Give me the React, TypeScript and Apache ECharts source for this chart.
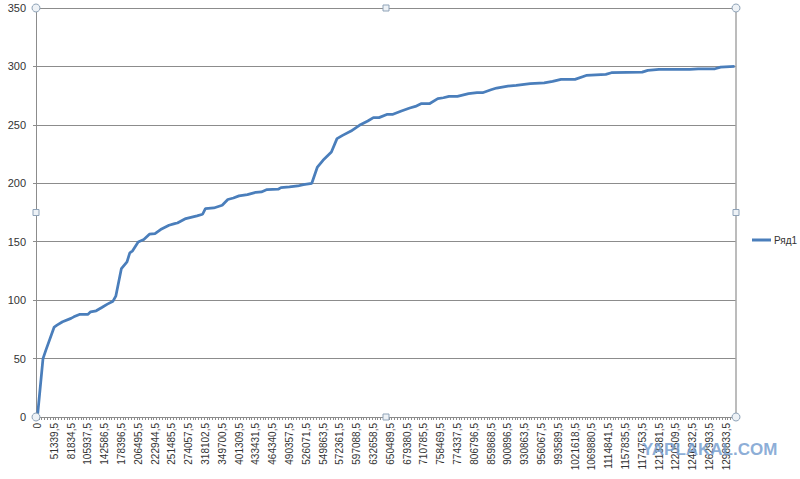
import React, { useEffect, useRef } from "react";
import * as echarts from "echarts";

const tickLabels = [
  "0", "51339,5", "81834,5", "105937,5", "142586,5", "178396,5", "206495,5",
  "222944,5", "251485,5", "274057,5", "318102,5", "349700,5", "401309,5",
  "433431,5", "464340,5", "490357,5", "526071,5", "549863,5", "572361,5",
  "597088,5", "632658,5", "650489,5", "679380,5", "710785,5", "758469,5",
  "774337,5", "806796,5", "859868,5", "900896,5", "930863,5", "956067,5",
  "993589,5", "1021618,5", "1069880,5", "1114841,5", "1157835,5", "1174753,5",
  "1213381,5", "1220509,5", "1246232,5", "1262993,5", "1298833,5",
];
const categoryCount = 250;
const labelEvery = 6;

const pointIndex = [
  0, 2, 3, 6, 7, 9, 12, 13, 15, 18, 19, 21, 23, 25, 27, 28, 30, 32, 33, 34,
  36, 38, 40, 42, 44, 47, 49, 50, 53, 57, 59, 60, 63, 66, 68, 70, 72, 75, 78,
  80, 82, 86, 87, 90, 93, 95, 98, 100, 102, 105, 107, 109, 112, 115, 118, 120,
  122, 125, 127, 130, 133, 135, 137, 140, 143, 145, 147, 150, 154, 157, 159,
  162, 164, 168, 171, 176, 181, 184, 187, 192, 196, 203, 205, 216, 218, 222,
  233, 236, 242, 244, 249,
];
const pointValue = [
  0, 50, 57, 77, 78.6, 81.5, 84.4, 85.7, 87.8, 87.8, 90, 90.9, 93.7, 96.6,
  99.1, 103.4, 127, 132.8, 140.5, 142.2, 149.8, 151.9, 156.4, 157, 160.4,
  164.1, 165.5, 166, 169.8, 172.1, 173.5, 178.4, 178.9, 181.2, 186.1, 187.4,
  189.2, 190.3, 192.3, 192.6, 194.6, 194.9, 196.3, 196.9, 197.7, 198.9, 200,
  213.9, 219.7, 226.8, 238.2, 241, 244.7, 249.6, 253.3, 256.2, 256.2, 259, 259,
  261.8, 264.4, 265.8, 268.1, 268.1, 272.4, 273.2, 274.4, 274.4, 276.7, 277.5,
  277.5, 280, 281.5, 283.2, 283.8, 285.2, 286, 287.2, 288.9, 288.9, 292.3,
  293.2, 294.6, 295.1, 296.6, 297.4, 297.4, 298, 298, 299.4, 300,
];
const seriesName = "Ряд1";

const FONT = "Liberation Sans, Arial, sans-serif";

export default function App() {
  const ref = useRef<HTMLDivElement>(null);

  useEffect(() => {
    if (!ref.current) return;
    const chart = echarts.init(ref.current, undefined, { renderer: "svg" });

    const categories = Array.from({ length: categoryCount }, (_, i) =>
      i % labelEvery === 0 ? tickLabels[i / labelEvery] ?? "" : ""
    );
    const data = pointIndex.map((idx, k) => [idx, pointValue[k]]);

    const L = 36, T = 8, R = 736, B = 417;
    const handleStyle = { fill: "#eef2f6", stroke: "#8fa3b8", lineWidth: 1 };
    const circle = (x: number, y: number) => ({
      type: "circle", shape: { cx: x, cy: y, r: 4 }, style: handleStyle, z: 100,
    });
    const square = (x: number, y: number) => ({
      type: "rect", shape: { x: x - 3, y: y - 3, width: 6, height: 6 }, style: handleStyle, z: 100,
    });

    chart.setOption({
      animation: false,
      backgroundColor: "#ffffff",
      grid: { left: L, top: T, right: 800 - R, bottom: 479 - B, containLabel: false },
      legend: {
        show: true,
        orient: "vertical",
        left: 752,
        top: 235,
        padding: 0,
        icon: "rect",
        itemWidth: 19,
        itemHeight: 3,
        itemGap: 4,
        data: [seriesName],
        textStyle: { fontFamily: FONT, fontSize: 10, color: "#333333", padding: [0, 0, 0, -2] },
      },
      xAxis: {
        type: "category",
        data: categories,
        boundaryGap: true,
        axisLine: { show: true, lineStyle: { color: "#8c8c8c", width: 1 } },
        axisTick: { show: true, interval: 0, length: 3, lineStyle: { color: "#8c8c8c" } },
        axisLabel: {
          interval: labelEvery - 1,
          rotate: 90,
          margin: 6,
          fontFamily: FONT,
          fontSize: 10,
          color: "#333333",
        },
        splitLine: { show: false },
      },
      yAxis: {
        type: "value",
        min: 0,
        max: 350,
        interval: 50,
        axisLine: { show: true, lineStyle: { color: "#8c8c8c", width: 1 } },
        axisTick: { show: true, length: 3, lineStyle: { color: "#8c8c8c" } },
        axisLabel: { margin: 10, fontFamily: FONT, fontSize: 11, color: "#333333" },
        splitLine: { show: true, lineStyle: { color: "#8c8c8c", width: 1 } },
      },
      series: [
        {
          name: seriesName,
          type: "line",
          data,
          symbol: "none",
          lineStyle: { color: "#4a7ebb", width: 2.75 },
          itemStyle: { color: "#4a7ebb" },
        },
      ],
      graphic: [
        { type: "line", shape: { x1: R, y1: T, x2: R, y2: B }, style: { stroke: "#a6a6a6", lineWidth: 1.5 }, z: 50 },
        circle(L, T), circle(R, T), circle(L, B), circle(R, B),
        square((L + R) / 2, T), square((L + R) / 2, B), square(L, (T + B) / 2), square(R, (T + B) / 2),
        {
          type: "text",
          left: 642,
          top: 441,
          z: 120,
          style: {
            text: "YAPLAKAL.COM",
            fontFamily: FONT,
            fontWeight: "bold",
            fontSize: 17,
            fill: "rgba(120,160,208,0.85)",
          },
        },
      ],
    });

    return () => chart.dispose();
  }, []);

  return (
    <div
      ref={ref}
      style={{ position: "fixed", left: 0, top: 0, width: 800, height: 479 }}
    />
  );
}
